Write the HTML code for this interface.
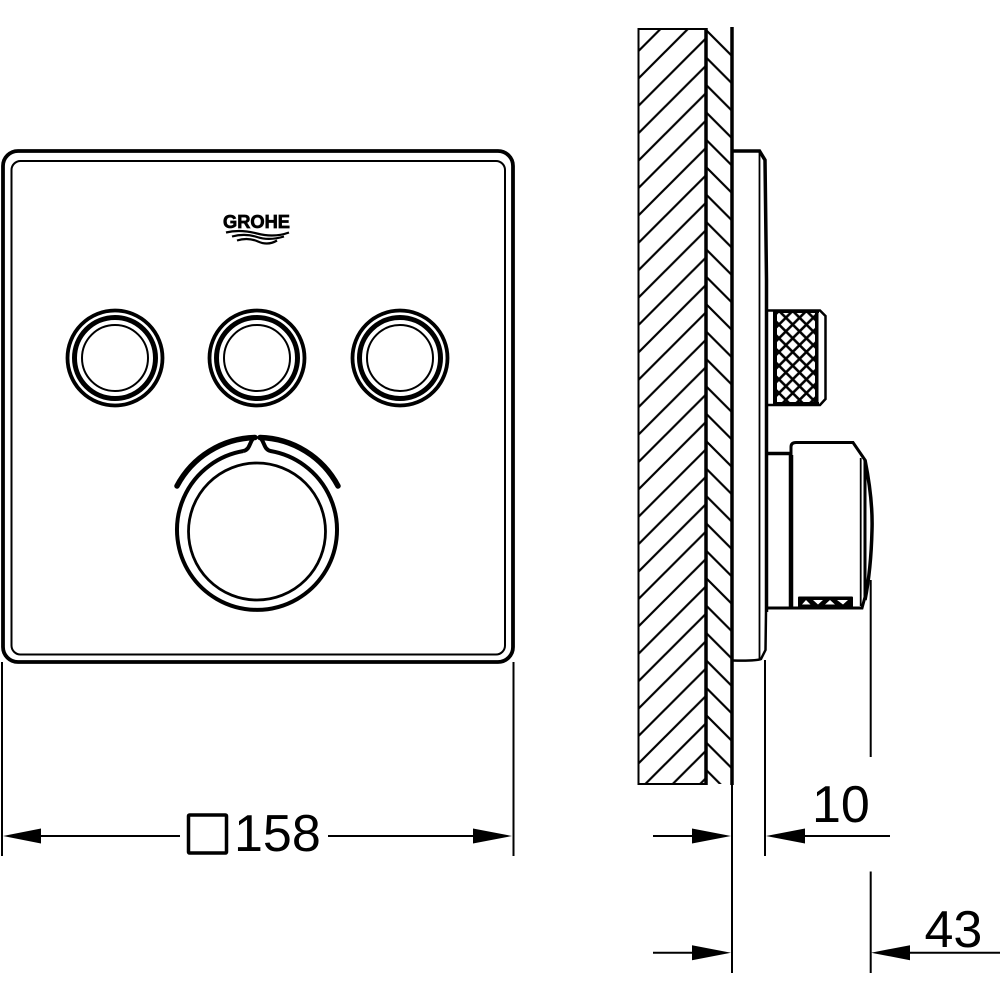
<!DOCTYPE html>
<html>
<head>
<meta charset="utf-8">
<style>
html,body{margin:0;padding:0;background:#fff;width:1000px;height:1000px;overflow:hidden}
svg{display:block}
text{font-family:"Liberation Sans",sans-serif;fill:#000}
</style>
</head>
<body>
<svg width="1000" height="1000" viewBox="0 0 1000 1000" xmlns="http://www.w3.org/2000/svg">
<defs>
<pattern id="h1" patternUnits="userSpaceOnUse" x="638" y="24.1" width="27.4" height="27.4">
<path d="M-2 29.4L29.4 -2M-2 2L2 -2M25.4 29.4L29.4 25.4" stroke="#000" stroke-width="2.2" fill="none"/>
</pattern>
<pattern id="h2" patternUnits="userSpaceOnUse" x="706" y="30" width="27.4" height="27.4">
<path d="M-2 -2L29.4 29.4M-2 25.4L2 29.4M25.4 -2L29.4 2" stroke="#000" stroke-width="2.2" fill="none"/>
</pattern>
<pattern id="kn" patternUnits="userSpaceOnUse" x="785.85" y="310.85" width="13.7" height="13.7">
<path d="M6.85 1.8L11.9 6.85L6.85 11.9L1.8 6.85Z M0 -3.2L5.05 0L0 3.2L-5.05 0Z M13.7 -5.05L18.75 0L13.7 5.05L8.65 0Z M0 8.65L5.05 13.7L0 18.75L-5.05 13.7Z M13.7 8.65L18.75 13.7L13.7 18.75L8.65 13.7Z M0 -5.05L5.05 0L0 5.05L-5.05 0Z" fill="#fff"/>
</pattern>
</defs>

<g fill="none" stroke="#000">
<!-- front plate -->
<rect x="3" y="151" width="510" height="511" rx="15" stroke-width="3.8"/>
<rect x="11.500" y="161" width="493.500" height="493.500" rx="9" stroke-width="2"/>

<!-- small buttons -->
<circle cx="115" cy="358" r="47.500" stroke-width="3.800"/>
<circle cx="115" cy="358" r="40.500" stroke-width="5"/>
<circle cx="115" cy="358" r="33" stroke-width="2"/>
<circle cx="257" cy="358" r="47.500" stroke-width="3.800"/>
<circle cx="257" cy="358" r="40.500" stroke-width="5"/>
<circle cx="257" cy="358" r="33" stroke-width="2"/>
<circle cx="400" cy="358" r="47.500" stroke-width="3.800"/>
<circle cx="400" cy="358" r="40.500" stroke-width="5"/>
<circle cx="400" cy="358" r="33" stroke-width="2"/>

<!-- large dial -->
<circle cx="257" cy="531.500" r="68.500" stroke-width="2.800"/>
<path d="M243.500 451A80 80 0 1 0 270.500 451C264 449 265 444 261 438.500M243.500 451C250 449 249 444 253 438.500" stroke-width="4"/>
<path d="M177 486A91 91 0 0 1 255 437.500" stroke-width="5.500" stroke-linecap="round"/>
<path d="M338 486A91 91 0 0 0 260 437.500" stroke-width="5.500" stroke-linecap="round"/>

<!-- wall section -->
<rect x="638.500" y="29" width="68" height="755" fill="url(#h1)" stroke="none"/>
<rect x="707" y="29" width="24" height="755" fill="url(#h2)" stroke="none"/>
<path d="M706 29H638.500V784H706" stroke-width="2"/>
<path d="M706 28V785" stroke-width="3.500"/>
<path d="M732 27V785" stroke-width="3.500"/>
<path d="M732 785V973" stroke-width="2"/>

<!-- cover plate side -->
<path d="M733 151H759.500L765 160L766.500 280V612" stroke-width="3.500"/>
<path d="M766 612L765.500 650L761 659Q757 661 733 660.500" stroke-width="2.500"/>
<path d="M759.500 151V660" stroke-width="1.800"/>

<!-- knurled part -->
<path d="M767 310.500H820L825.500 316V399L820 405H767" stroke-width="2.500"/>
<rect x="773" y="309.500" width="46" height="96.500" fill="#000" stroke="none"/>
<rect x="777" y="313" width="38" height="89" fill="url(#kn)" stroke="none"/>
<path d="M819.500 313V402" stroke="#fff" stroke-width="2"/>

<!-- lower knob -->
<path d="M767 453.500H790" stroke-width="3.500"/>
<path d="M791 608V447Q791 442.500 796 442.500H853L865 460V597L862 608H767" stroke-width="3"/>
<path d="M860.700 458V606" stroke-width="1.800"/>
<path d="M865 460Q873 500 872 530Q871 570 865 600" stroke-width="3.500"/>
<path d="M870.700 580V757M870.700 871.500V973" stroke-width="2"/>
<path d="M791 455V608" stroke-width="4.500"/>
<rect x="798" y="596.500" width="55" height="11.500" rx="1" fill="#000" stroke="none"/>
<path d="M802 604.500L806 600L810.500 604.500ZM813 600H823L818 604.500ZM825 604.500L830 600L835 604.500ZM837 600H848L843 604.500Z" fill="#fff" stroke="none"/>

<!-- dimension lines -->
<path d="M2 662V856M513.500 662V856" stroke-width="2"/>
<path d="M30 836H180M328 836H485" stroke-width="2"/>
<rect x="188.500" y="815" width="38" height="38" rx="1" stroke-width="3.500"/>
<path d="M653 836H700M780 836H890M653 952.700H700M885 952.700H1000" stroke-width="2"/>
<path d="M765 660V856" stroke-width="2"/>
</g>

<path d="M3 836L41 828.500V843.500Z M512 836L473 828.500V843.500Z M731 836L692 828.500V843.500Z M766 836L805 828.500V843.500Z M731 952.700L692 945.200V960.200Z M871 952.700L910 945.200V960.200Z" fill="#000"/>

<!-- logo -->
<text x="223" y="228" font-size="18" font-weight="700" stroke="#000" stroke-width="0.7" textLength="67" lengthAdjust="spacingAndGlyphs">GROHE</text>
<path d="M226 232.500Q240 229 257 233.500T289 232.500M232 236.500Q245 233 257 237T284 236.500M237 240.500Q248 237 258 241.500T277 240.500" fill="none" stroke="#000" stroke-width="2.200"/>

<!-- labels -->
<text x="234" y="851" font-size="52">158</text>
<text x="812" y="822" font-size="52">10</text>
<text x="924.500" y="947" font-size="52">43</text>
</svg>
</body>
</html>
